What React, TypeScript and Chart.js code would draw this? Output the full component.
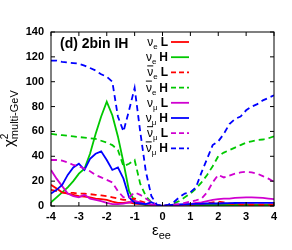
import React, { useEffect, useRef } from "react";
import { Chart, registerables } from "chart.js";
Chart.register(...registerables);

const xValues = [-4, -3.8, -3.6, -3.4, -3.2, -3, -2.8, -2.6, -2.4, -2.2, -2, -1.8, -1.6, -1.4, -1.2, -1, -0.8, -0.6, -0.4, -0.2, 0,
  0.2, 0.4, 0.6, 0.8, 1, 1.2, 1.4, 1.6, 1.8, 2, 2.2, 2.4, 2.6, 2.8, 3, 3.2, 3.4, 3.6, 3.8, 4];

const nueL = [17, 14, 11, 10, 9, 8, 7.5, 7, 6, 5.5, 5, 3.5, 2.5, 2.5, 3, 2, 1.5, 1, 0.5, 0.2, 0,
  0.2, 0.4, 0.6, 0.8, 1, 1.2, 1.3, 1.4, 1.5, 1.5, 1.5, 1.5, 1.4, 1.3, 1.2, 1.2, 1.1, 1.1, 1, 1];
const nueH = [3, 7, 11, 15, 20, 26, 30, 42, 58, 72, 84, 73, 56, 35, 12, 4, 2, 1, 0.5, 0.3, 0,
  0.2, 0.3, 0.4, 0.5, 0.5, 0.5, 0.6, 0.6, 0.6, 0.7, 0.7, 0.7, 0.7, 0.7, 0.7, 0.7, 0.7, 0.7, 0.7, 0.7];
const anueL = [13, 12, 11, 10.5, 10.5, 10, 10, 9.5, 9, 8.5, 8, 7, 6, 5, 5, 6, 4, 2.5, 1, 0.5, 0,
  0.2, 0.5, 0.7, 1, 1, 1.2, 1.5, 2, 3, 3.5, 3, 2, 1.5, 1.2, 1, 1, 1, 1, 1, 1];
const anueH = [58, 57.5, 57, 56.5, 56, 55.5, 55, 54.5, 54, 52.5, 51, 49, 45, 32, 34, 37, 18, 8, 3, 1, 0,
  0.5, 2, 4, 7, 10, 14, 19, 25, 32, 40, 43, 45, 47, 49, 51, 52, 53, 53.5, 54.5, 56];
const numuL = [29, 22, 16, 10, 8, 7, 9, 6, 5, 4, 2.5, 1.5, 1.5, 2, 3, 4, 3, 1.5, 1, 0.5, 0,
  0.3, 0.5, 0.7, 1, 1.5, 2.5, 3, 4, 5, 5.5, 6, 6, 6.5, 6.8, 7, 7, 6.8, 6.5, 6, 5.5];
const numuH = [10, 13, 17, 25, 31, 34, 29, 38, 42, 44, 37, 29, 31, 22, 7, 2.5, 2, 1.5, 3, 1, 0,
  0.5, 1, 1.2, 1.5, 1.5, 1.7, 1.8, 2, 2, 2, 2.2, 2.3, 2.4, 2.5, 2.5, 2.5, 2.5, 2.5, 2.5, 2.5];
const anumuL = [37, 37, 36.5, 35, 33, 32, 30, 28, 25, 23, 21, 19, 12, 7, 7, 11, 9, 6, 3, 1, 0,
  0.5, 1, 1.5, 2.5, 3.5, 4.5, 6, 11, 19, 25, 23, 24.5, 26, 27, 27.5, 27, 26, 24, 22, 19.5];
const anumuH = [117, 117, 116, 115.5, 115, 114.5, 113, 111, 109, 106, 104, 100, 72, 60, 77, 95, 60, 28, 8, 1, 0,
  1, 3, 7, 10, 11, 15, 27, 38, 49, 52, 58, 66, 70, 72, 77, 80, 82, 85, 87, 89];

const xTicks = [-4, -3, -2, -1, 0, 1, 2, 3, 4];
const yTicks = [0, 20, 40, 60, 80, 100, 120, 140];
const titleText = "(d) 2bin IH";

const RED = "#ff0000";
const GREEN = "#00c800";
const MAGENTA = "#d000d0";
const BLUE = "#0000ff";
const DASH = [6, 4];

const seriesList = [
  { data: nueL, color: RED, dash: [], anti: false, sub: "e", tag: "L" },
  { data: nueH, color: GREEN, dash: [], anti: false, sub: "e", tag: "H" },
  { data: anueL, color: RED, dash: DASH, anti: true, sub: "e", tag: "L" },
  { data: anueH, color: GREEN, dash: DASH, anti: true, sub: "e", tag: "H" },
  { data: numuL, color: MAGENTA, dash: [], anti: false, sub: "\u03bc", tag: "L" },
  { data: numuH, color: BLUE, dash: [], anti: false, sub: "\u03bc", tag: "H" },
  { data: anumuL, color: MAGENTA, dash: DASH, anti: true, sub: "\u03bc", tag: "L" },
  { data: anumuH, color: BLUE, dash: DASH, anti: true, sub: "\u03bc", tag: "H" },
];

const FONT = "'Liberation Sans', Arial, sans-serif";

const overlay = {
  id: "overlay",
  afterDraw(chart: any) {
    const ctx = chart.ctx;
    const { left, right, top, bottom } = chart.chartArea;
    const xs = chart.scales.x;
    const ys = chart.scales.y;
    ctx.save();
    // frame
    ctx.strokeStyle = "#000";
    ctx.lineWidth = 1;
    ctx.setLineDash([]);
    ctx.strokeRect(left, top, right - left, bottom - top);
    // ticks inward
    const tl = 4;
    ctx.beginPath();
    xTicks.forEach((v) => {
      const px = xs.getPixelForValue(v);
      ctx.moveTo(px, bottom);
      ctx.lineTo(px, bottom - tl);
      ctx.moveTo(px, top);
      ctx.lineTo(px, top + tl);
    });
    yTicks.forEach((v) => {
      const py = ys.getPixelForValue(v);
      ctx.moveTo(left, py);
      ctx.lineTo(left + tl, py);
      ctx.moveTo(right, py);
      ctx.lineTo(right - tl, py);
    });
    ctx.stroke();

    // title
    ctx.fillStyle = "#000";
    ctx.font = `bold 14px ${FONT}`;
    ctx.textAlign = "left";
    ctx.textBaseline = "alphabetic";
    ctx.fillText(titleText, 60, 48);

    // legend
    seriesList.forEach((s, i) => {
      const ly = 42 + i * 15.2;
      const base = ly + 4;
      ctx.font = `12px ${FONT}`;
      const wNu = ctx.measureText("\u03bd").width;
      ctx.font = `8px ${FONT}`;
      const wSub = ctx.measureText(s.sub).width;
      ctx.font = `bold 12px ${FONT}`;
      const wTag = ctx.measureText(s.tag).width;
      const total = wNu + wSub + 3 + wTag;
      let x0 = 168 - total;
      ctx.fillStyle = "#000";
      ctx.font = `12px ${FONT}`;
      ctx.fillText("\u03bd", x0, base);
      if (s.anti) {
        ctx.strokeStyle = "#000";
        ctx.lineWidth = 1;
        ctx.beginPath();
        ctx.moveTo(x0, base - 10.5);
        ctx.lineTo(x0 + wNu, base - 10.5);
        ctx.stroke();
      }
      ctx.font = `8px ${FONT}`;
      ctx.fillText(s.sub, x0 + wNu, base + 3);
      ctx.font = `bold 12px ${FONT}`;
      ctx.fillText(s.tag, x0 + wNu + wSub + 3, base);
      ctx.strokeStyle = s.color;
      ctx.lineWidth = 1.8;
      ctx.setLineDash(s.dash.length ? [5, 3] : []);
      ctx.beginPath();
      ctx.moveTo(171, ly);
      ctx.lineTo(189, ly);
      ctx.stroke();
      ctx.setLineDash([]);
    });

    // x axis title
    ctx.fillStyle = "#000";
    ctx.font = `15px ${FONT}`;
    ctx.fillText("\u03b5", 152, 235);
    const we = ctx.measureText("\u03b5").width;
    ctx.font = `11px ${FONT}`;
    ctx.fillText("ee", 152 + we, 239);

    // y axis title
    ctx.save();
    ctx.translate(0, 0);
    ctx.rotate(-Math.PI / 2);
    // rotated: x' = -y, y' = x
    const startY = 147;
    ctx.font = `15px ${FONT}`;
    ctx.fillText("\u03c7", -startY, 14);
    const wc = ctx.measureText("\u03c7").width;
    ctx.font = `10px ${FONT}`;
    ctx.fillText("2", -startY + wc, 8);
    ctx.font = `11px ${FONT}`;
    ctx.fillText("multi-GeV", -startY + wc, 18);
    ctx.restore();

    ctx.restore();
  },
};

export default function App() {
  const ref = useRef<HTMLCanvasElement>(null);
  useEffect(() => {
    if (!ref.current) return;
    const n = seriesList.length;
    const chart = new Chart(ref.current, {
      type: "line",
      data: {
        datasets: seriesList.map((s, i) => ({
          data: s.data.map((v, k) => ({ x: xValues[k], y: v })),
          borderColor: s.color,
          backgroundColor: s.color,
          borderWidth: 1.8,
          borderDash: s.dash,
          pointRadius: 0,
          tension: 0,
          fill: false,
          order: n - i,
        })),
      },
      options: {
        responsive: false,
        animation: false,
        events: [],
        layout: { padding: { left: 0, top: 32, right: 18, bottom: 0 } },
        plugins: { legend: { display: false }, tooltip: { enabled: false }, title: { display: false } },
        scales: {
          x: {
            type: "linear",
            min: -4,
            max: 4,
            grid: { display: false, drawTicks: false },
            border: { display: false },
            afterFit: (s: any) => { s.height = 44; },
            afterBuildTicks: (s: any) => { s.ticks = xTicks.map((v) => ({ value: v })); },
            ticks: {
              padding: 4,
              color: "#000",
              font: { family: FONT, size: 11, weight: "bold" },
              maxRotation: 0,
              autoSkip: false,
            },
          },
          y: {
            type: "linear",
            min: 0,
            max: 140,
            grid: { display: false, drawTicks: false },
            border: { display: false },
            afterFit: (s: any) => { s.width = 51; },
            afterBuildTicks: (s: any) => { s.ticks = yTicks.map((v) => ({ value: v })); },
            ticks: {
              padding: 7,
              color: "#000",
              font: { family: FONT, size: 11, weight: "bold" },
              autoSkip: false,
            },
          },
        },
      },
      plugins: [overlay],
    });
    return () => chart.destroy();
  }, []);
  return (
    <div style={{ position: "absolute", left: 0, top: 0, width: 292, height: 250, background: "#fff" }}>
      <canvas ref={ref} width={292} height={250} style={{ display: "block" }} />
    </div>
  );
}
